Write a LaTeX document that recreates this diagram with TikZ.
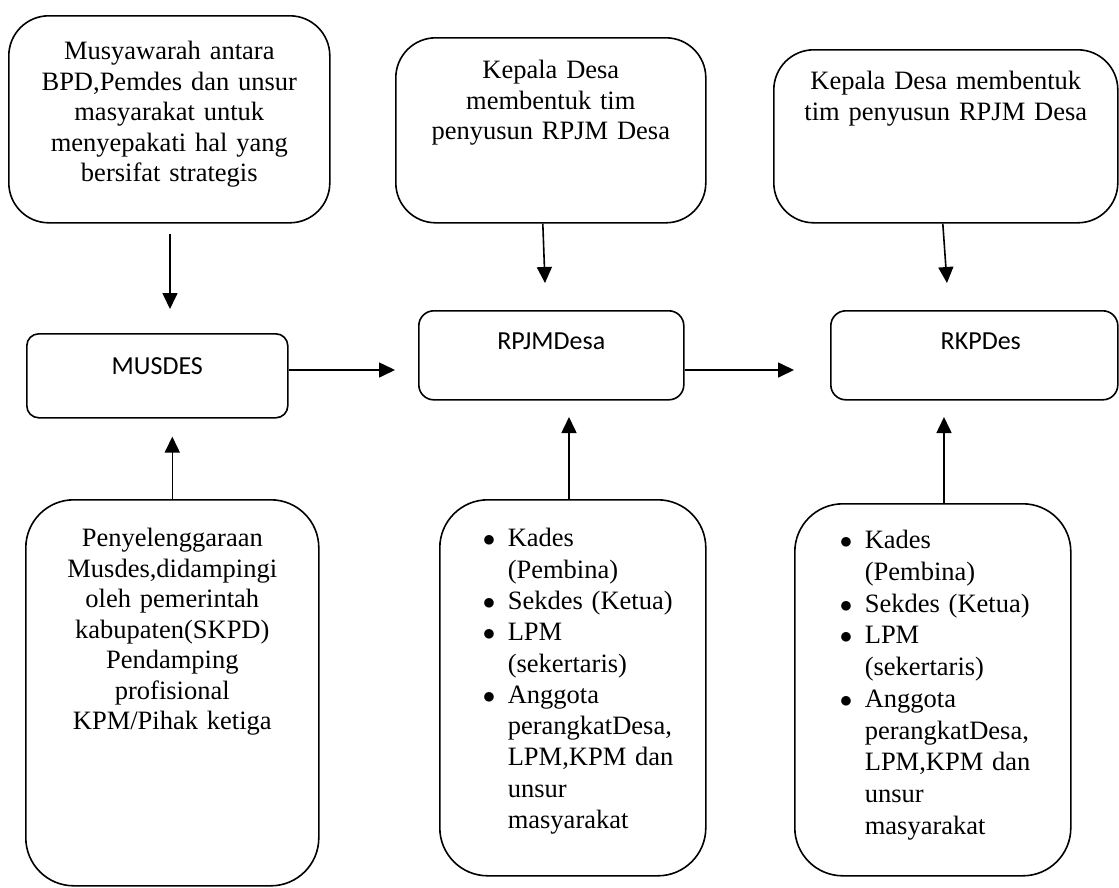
\documentclass[tikz,border=0pt]{standalone}
\usepackage{fontspec}
\setmainfont{Liberation Serif}
\newfontfamily\boxsans{Carlito}
\usetikzlibrary{arrows.meta}

\tikzset{
  blok/.style={draw, line width=1.6pt, inner sep=0pt, anchor=north west, align=center,
    rounded corners=40pt, font=\fontsize{26.5}{30.5}\selectfont},
  kotak/.style={blok, font=\boxsans\fontsize{26}{30}\selectfont},
  daftar/.style={blok, align=left, rounded corners=48pt},
  panah/.style={line width=1.6pt, -{Triangle[length=16pt,width=15pt]}}
}
\newcommand{\bul}{\makebox[25pt][l]{$\bullet$}}
\newcommand{\ind}{\hspace*{25pt}}

\begin{document}
\begin{tikzpicture}[x=1pt, y=-1pt]

\fill[white] (0,0) rectangle (1119,887);
\useasboundingbox (0,0) rectangle (1119,887);

% top row
\node[blok, text width=321pt, text height=44pt, text depth=163pt] (musy) at (8,15)
  {Musyawarah antara\\BPD,Pemdes dan unsur\\masyarakat untuk\\menyepakati hal yang\\bersifat strategis};
\node[blok, text width=310pt, text height=41pt, text depth=144pt] (kades1) at (395,37)
  {Kepala Desa\\membentuk tim\\penyusun RPJM Desa};
\node[blok, text width=344pt, text height=40pt, text depth=133pt] (kades2) at (773,49)
  {Kepala Desa membentuk\\tim penyusun RPJM Desa};

% middle row
\node[kotak, rounded corners=12pt, text width=261pt, text height=41pt, text depth=43pt] (musdes) at (26,333) {MUSDES};
\node[kotak, rounded corners=15pt, text width=265pt, text height=39pt, text depth=50pt] (rpjm) at (418,310) {RPJMDesa};
\node[kotak, rounded corners=15pt, text width=287pt, text height=39pt, text depth=50pt] (rkp) at (830,310) {\hspace*{13pt}RKPDes};

% bottom row
\node[blok, rounded corners=48pt, text width=293pt, text height=47pt, text depth=339pt] (lenggara) at (25,499)
  {Penyelenggaraan\\Musdes,didampingi\\oleh pemerintah\\kabupaten(SKPD)\\Pendamping\\profisional\\KPM/Pihak ketiga};
\node[daftar, text width=266pt, text height=47pt, text depth=329pt, font=\fontsize{26.5}{31.3}\selectfont] (tim1) at (439,499)
  {\leftskip=43pt \bul Kades\\\ind(Pembina)\\\bul Sekdes (Ketua)\\\bul LPM\\\ind(sekertaris)\\\bul Anggota\\\ind perangkatDesa,\\\ind LPM,KPM dan\\\ind unsur\\\ind masyarakat\par};
\node[daftar, text width=276pt, text height=45pt, text depth=327pt, font=\fontsize{26.5}{31.7}\selectfont] (tim2) at (794,503)
  {\leftskip=45pt \bul Kades\\\ind(Pembina)\\\bul Sekdes (Ketua)\\\bul LPM\\\ind(sekertaris)\\\bul Anggota\\\ind perangkatDesa,\\\ind LPM,KPM dan\\\ind unsur\\\ind masyarakat\par};

% arrow tips
\coordinate (t1) at (170,309);
\coordinate (t2) at (545,283);
\coordinate (t3) at (947,283);
\coordinate (t4) at (395,370);
\coordinate (t5) at (794,370);
\coordinate (t6) at (569,417);
\coordinate (t7) at (944,417);

\draw[panah, shorten <=10pt] (musy.south -| t1) -- (t1);
\draw[panah] ([xshift=-8pt]kades1.south) -- (t2);
\draw[panah] ([xshift=-3pt]kades2.south) -- (t3);
\draw[panah] (musdes.east |- t4) -- (t4);
\draw[panah] (rpjm.east |- t5) -- (t5);
\draw[panah, shorten >=18pt] (lenggara.north) -- (lenggara.north |- musdes.south);
\draw[panah] (tim1.north -| t6) -- (t6);
\draw[panah] (tim2.north -| t7) -- (t7);

\end{tikzpicture}
\end{document}
